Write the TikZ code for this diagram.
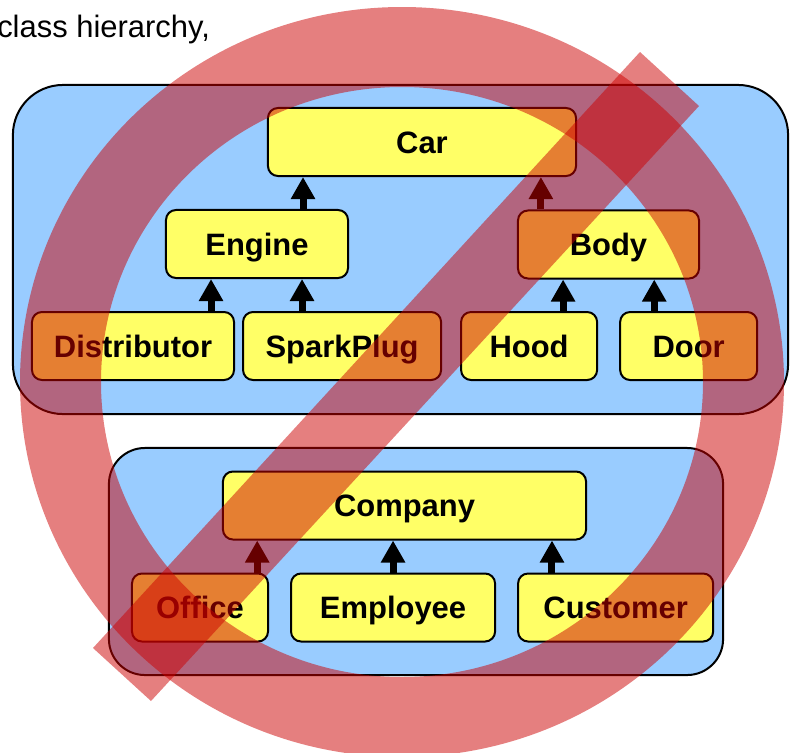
\documentclass[tikz,border=0pt]{standalone}
\usepackage{fontspec}
\setmainfont{Liberation Sans}
\usetikzlibrary{arrows.meta, positioning}

\definecolor{classyellow}{RGB}{255,255,102}
\definecolor{groupblue}{RGB}{153,204,255}
\definecolor{signred}{RGB}{204,0,0}

\begin{document}
\begin{tikzpicture}[
        x=0.025cm, y=-0.025cm,
        groupbox/.style={
            rectangle,
            draw=black,
            line width=0.05cm,
            fill=groupblue
        },
        classbox/.style={
            rectangle,
            rounded corners=0.25cm,
            minimum height=1.7cm,
            inner sep=0pt,
            text height=15.8pt,
            text depth=0pt,
            font=\fontsize{22pt}{26pt}\selectfont\bfseries,
            draw=black,
            line width=0.05cm,
            fill=classyellow
        },
        inherit/.style={
            line width=0.175cm,
            -{Triangle[length=0.55cm, width=0.575cm]}
        },
        forbid/.style={
            fill=signred,
            fill opacity=0.5
        }
    ]
        \useasboundingbox (0,0) rectangle (796,752);
        \node (title) [anchor=base west, inner sep=0pt, font=\fontsize{22pt}{26pt}\selectfont] at (-3,37) {class hierarchy,};

        \node (carbox) [groupbox, rounded corners=1.25cm, minimum width=19.375cm, minimum height=8.225cm] at (400.5,249.5) {};
        \node (companybox) [groupbox, rounded corners=0.9cm, minimum width=15.35cm, minimum height=5.675cm] at (416,561.5) {};

        \node (car) [classbox, minimum width=7.7cm] at (422,142) {Car};
        \node (engine) [classbox, minimum width=4.55cm] at (257,244) {Engine};
        \node (body) [classbox, minimum width=4.525cm] at (608.5,244.5) {Body};
        \node (distributor) [classbox, minimum width=5.05cm] at (133,346) {Distributor};
        \node (sparkplug) [classbox, minimum width=4.95cm, right=0.175cm of distributor] {SparkPlug};
        \node (hood) [classbox, minimum width=3.4cm, right=0.45cm of sparkplug] {Hood};
        \node (door) [classbox, minimum width=3.425cm, right=0.525cm of hood] {Door};

        \node (company) [classbox, minimum width=9.075cm] at (404.5,505.5) {Company};
        \node (office) [classbox, minimum width=3.4cm] at (200,607.5) {Office};
        \node (employee) [classbox, minimum width=5.1cm, right=0.525cm of office] {Employee};
        \node (customer) [classbox, minimum width=4.875cm, right=0.525cm of employee] {Customer};

        \draw [inherit] ([xshift=1.15cm]engine.north) -- ([xshift=1.15cm]engine.north |- car.south);
        \draw [inherit] ([xshift=-1.69cm]body.north) -- ([xshift=-1.69cm]body.north |- car.south);
        \draw [inherit] ([xshift=1.95cm]distributor.north) -- ([xshift=1.95cm]distributor.north |- engine.south);
        \draw [inherit] ([xshift=-1cm]sparkplug.north) -- ([xshift=-1cm]sparkplug.north |- engine.south);
        \draw [inherit] ([xshift=0.85cm]hood.north) -- ([xshift=0.85cm]hood.north |- body.south);
        \draw [inherit] ([xshift=-0.86cm]door.north) -- ([xshift=-0.86cm]door.north |- body.south);
        \draw [inherit] ([xshift=1.43cm]office.north) -- ([xshift=1.43cm]office.north |- company.south);
        \draw [inherit] (employee.north) -- (employee.north |- company.south);
        \draw [inherit] ([xshift=-1.59cm]customer.north) -- ([xshift=-1.59cm]customer.north |- company.south);

        % the "no" sign on top
        \fill [forbid, even odd rule] (402,382) ellipse [x radius=382, y radius=375] (402,382) ellipse [x radius=301, y radius=295];
        \fill [forbid] (640,52) -- (699,106) -- (151,701) -- (93,648) -- cycle;

    \end{tikzpicture}
\end{document}
